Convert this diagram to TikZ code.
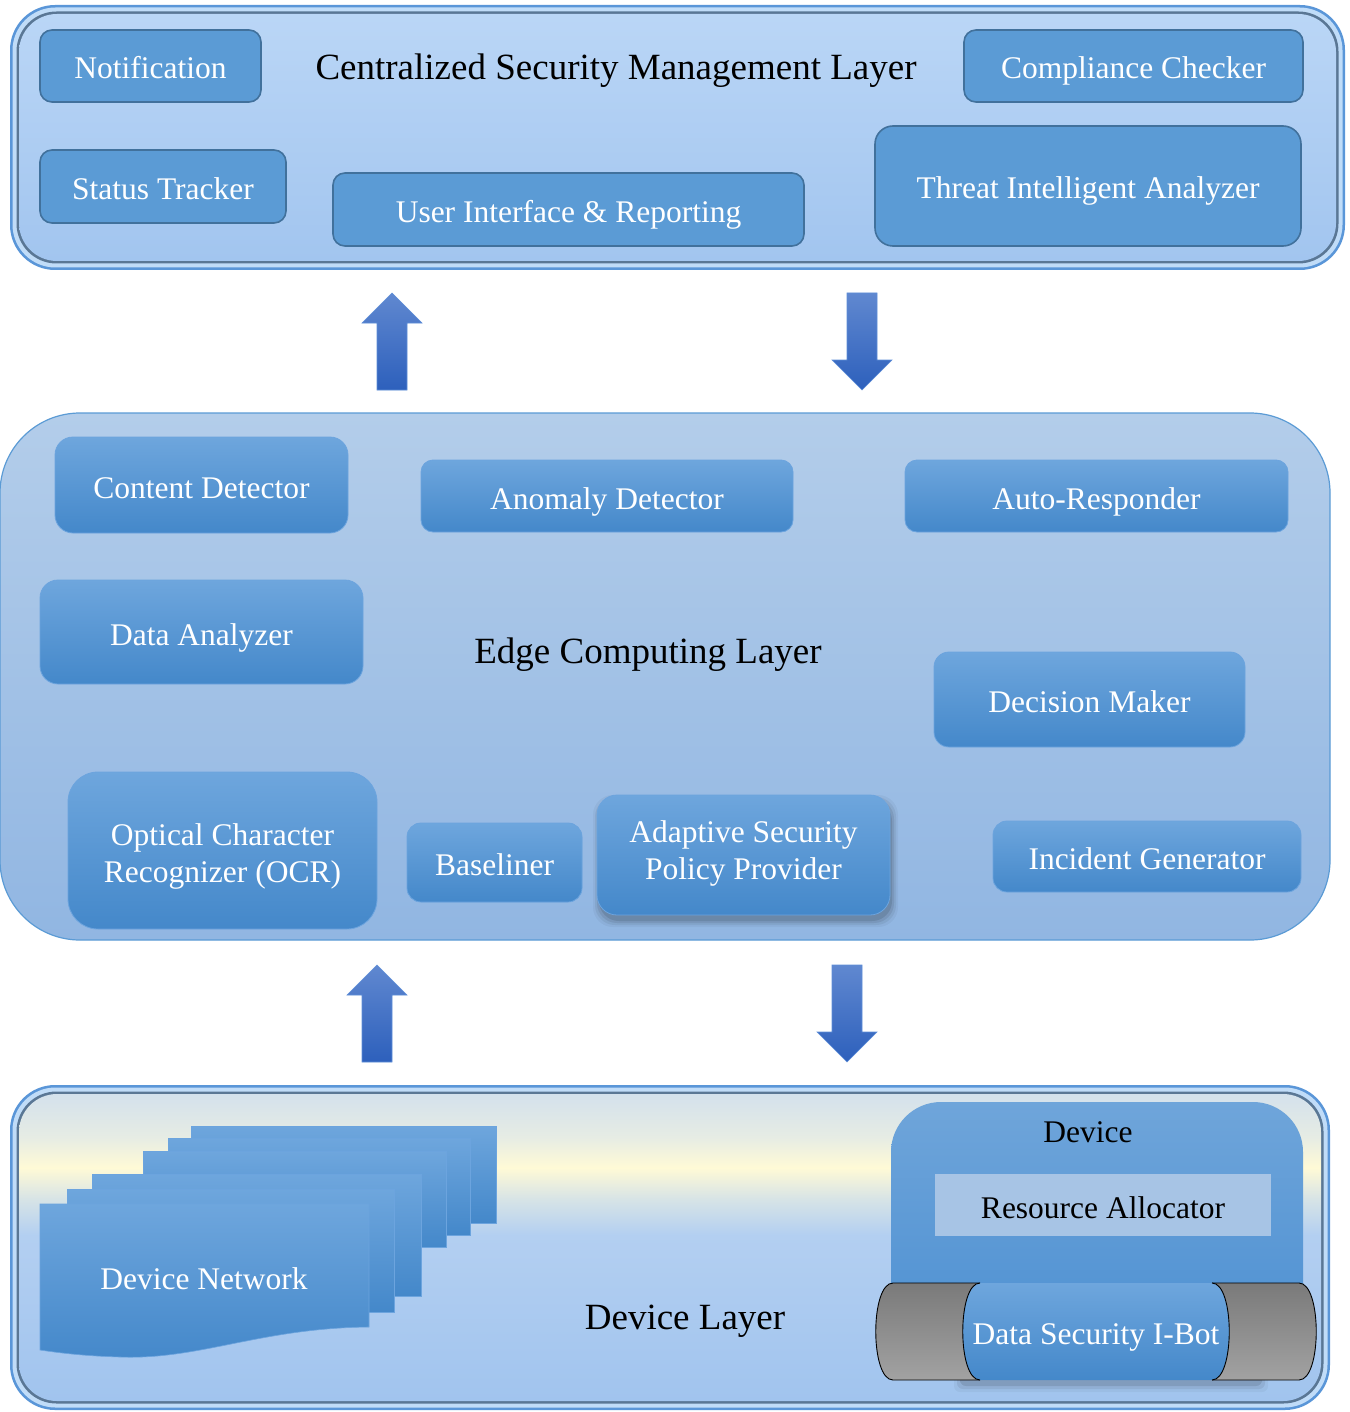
\documentclass[tikz,border=0pt]{standalone}
\usepackage{fontspec}
\setmainfont{Liberation Serif}

\definecolor{topfill}{HTML}{5B9BD5}
\definecolor{topedge}{HTML}{41719C}
\definecolor{midtop}{HTML}{6EA6DD}
\definecolor{midbot}{HTML}{4488CA}
\definecolor{midedge}{HTML}{6CA4DE}
\definecolor{toptop}{HTML}{BAD6F6}
\definecolor{topbot}{HTML}{A2C5EF}
\definecolor{frameout}{HTML}{5A96D8}
\definecolor{framelight}{HTML}{C0DCF8}
\definecolor{framedark}{HTML}{5A7795}
\definecolor{edgetop}{HTML}{B3CDEA}
\definecolor{edgebot}{HTML}{91B6E2}
\definecolor{edgeline}{HTML}{5B9BD5}
\definecolor{arrtop}{HTML}{6088D0}
\definecolor{arrbot}{HTML}{2D60BC}
\definecolor{arredge}{HTML}{5E8ED8}
\definecolor{devtop}{HTML}{6FA5DA}
\definecolor{devbot}{HTML}{4D90D2}
\definecolor{resfill}{HTML}{A7C4E5}
\definecolor{graytop}{HTML}{7A7A7A}
\definecolor{graybot}{HTML}{A2A2A2}
\definecolor{dlB}{HTML}{A1C4EE}
\definecolor{dlC}{HTML}{B3CFF1}
\definecolor{dlD}{HTML}{D8E4E6}
\definecolor{dlY}{HTML}{FFFAD6}
\definecolor{dlE}{HTML}{E6ECE4}
\definecolor{dlT}{HTML}{D4E1EC}

% fill of the device layer: blue below, a pale yellow band near the top
\pgfdeclareverticalshading{devlayerfill}{100bp}{%
  color(0bp)=(dlB); color(25bp)=(dlB); color(52bp)=(dlC);
  color(58bp)=(dlD); color(63bp)=(dlY); color(68bp)=(dlE);
  color(75bp)=(dlT); color(100bp)=(dlT)}

\newcommand\boxfont{\fontsize{31.5}{37}\selectfont}
\newcommand\titlefont{\fontsize{37}{44}\selectfont}

\tikzset{
  flatbox/.style={draw=topedge, line width=1.6pt, fill=topfill,
    rounded corners=12pt, text=white, font=\boxfont, inner sep=0pt,
    text height=26pt, text depth=0pt},
  gradbox/.style={draw=midedge, line width=0.8pt, top color=midtop,
    bottom color=midbot, rounded corners=#1, text=white, font=\boxfont,
    inner sep=0pt, text height=26pt, text depth=0pt},
  gradbox/.default=14pt,
  gradboxtwo/.style={draw=midedge, line width=0.8pt, top color=midtop,
    bottom color=midbot, rounded corners=#1, inner sep=0pt},
  gradboxtwo/.default=20pt,
  boxtext/.style={text=white, font=\boxfont, inner sep=0pt, align=center},
  layertitle/.style={font=\titlefont, text=black, inner sep=0pt},
  blockarrow/.style={top color=arrtop, bottom color=arrbot, draw=arredge,
    line width=0.6pt},
  docpage/.style={top color=midtop, bottom color=midbot, draw=midedge,
    line width=0.6pt},
  edgelayer/.style={draw=edgeline, line width=1.2pt, top color=edgetop,
    bottom color=edgebot, rounded corners=80pt, inner sep=0pt},
  cylline/.style={draw=black, line width=0.9pt},
  softshade/.style={fill=black, opacity=#1},
}

\begin{document}
\begin{tikzpicture}[x=1pt,y=-1pt]
\useasboundingbox (0,0) rectangle (1349,1412);
\fill[white] (0,0) rectangle (1349,1412);

% ---------- Centralized Security Management Layer ----------
\fill[frameout, rounded corners=45pt] (10,5) rectangle (1345,270);
\fill[framelight, rounded corners=43pt] (12.5,7.5) rectangle (1342.5,267.5);
\fill[framedark, rounded corners=40pt] (16.5,11.5) rectangle (1338.5,263.5);
\shade[top color=toptop, bottom color=topbot, rounded corners=38pt]
  (19,14) rectangle (1336,261);

\node[layertitle] (csmtitle) at (616,71) {Centralized Security Management Layer};
\node[flatbox, minimum width=221pt, minimum height=72pt] (notif) at (150.5,66) {Notification};
\node[flatbox, minimum width=246pt, minimum height=73pt] (status) at (163,186.5) {Status Tracker};
\node[flatbox, minimum width=471pt, minimum height=73pt] (uir) at (568.5,209.5) {User Interface \& Reporting};
\node[flatbox, minimum width=339pt, minimum height=72pt] (compl) at (1133.5,66) {Compliance Checker};
\node[flatbox, rounded corners=18pt, minimum width=426pt, minimum height=120pt] (threat) at (1088,186) {Threat Intelligent Analyzer};

% ---------- arrows between top and edge layers ----------
\draw[blockarrow] (392,293) -- (422,323) -- (407,323) -- (407,390)
  -- (377,390) -- (377,323) -- (362,323) -- cycle;
\draw[blockarrow] (847,293) -- (877,293) -- (877,360) -- (892,360)
  -- (862,390) -- (832,360) -- (847,360) -- cycle;

% ---------- Edge Computing Layer ----------
\node[edgelayer, minimum width=1330pt, minimum height=527pt] (edge) at (665,676.5) {};
\node[layertitle] (edgetitle) at (648,655) {Edge Computing Layer};

\node[gradbox=18pt, minimum width=293pt, minimum height=96pt] (content) at (201.5,485) {Content Detector};
\node[gradbox=12pt, minimum width=372pt, minimum height=72pt] (anomaly) at (607,496) {Anomaly Detector};
\node[gradbox=12pt, minimum width=383pt, minimum height=72pt] (auto) at (1096.5,496) {Auto-Responder};
\node[gradbox=18pt, minimum width=323pt, minimum height=104pt] (data) at (201.5,632) {Data Analyzer};
\node[gradbox=15pt, minimum width=311pt, minimum height=95pt] (decision) at (1089.5,699.5) {Decision Maker};
\node[gradboxtwo=30pt, minimum width=309pt, minimum height=157pt] (ocr) at (222.5,850.5) {};
\node[boxtext] (ocrtext) at (222.5,856.5) {Optical Character\\Recognizer (OCR)};
\node[gradbox=14pt, fill=topfill, minimum width=175pt, minimum height=79pt] (baseliner) at (494.5,862.5) {Baseliner};

% soft shadow under the policy provider box
\foreach \g/\o in {0/0.10, 2/0.08, 4/0.06, 6/0.04}
  \fill[softshade=\o, rounded corners=20pt]
    (597-\g+2,795+6-\g) rectangle (890+\g+2,915+6+\g);
\node[gradboxtwo=20pt, minimum width=293pt, minimum height=120pt] (adaptive) at (743.5,855) {};
\node[boxtext] (adaptivetext) at (743.5,853) {Adaptive Security\\Policy Provider};
\node[gradbox=14pt, minimum width=308pt, minimum height=71pt] (incident) at (1147,856.5) {Incident Generator};

% ---------- arrows between edge and device layers ----------
\draw[blockarrow] (377,965) -- (407,995) -- (392,995) -- (392,1062)
  -- (362,1062) -- (362,995) -- (347,995) -- cycle;
\draw[blockarrow] (832,965) -- (862,965) -- (862,1032) -- (877,1032)
  -- (847,1062) -- (817,1032) -- (832,1032) -- cycle;

% ---------- Device Layer ----------
\fill[frameout, rounded corners=45pt] (10,1085) rectangle (1330,1410);
\fill[framelight, rounded corners=43pt] (12.5,1087.5) rectangle (1327.5,1407.5);
\fill[framedark, rounded corners=40pt] (16.5,1091.5) rectangle (1323.5,1403.5);
\shade[shading=devlayerfill, rounded corners=38pt] (19,1094) rectangle (1321,1401);

% stacked pages of the device network
\draw[docpage] (191,1126) rectangle (496,1223);
\draw[docpage] (168,1138) rectangle (470,1235);
\draw[docpage] (143,1151) rectangle (446,1247);
\draw[docpage] (92,1174) rectangle (421,1296);
\draw[docpage] (67,1189) rectangle (394,1312);
\draw[docpage] (40,1204) -- (369,1204) -- (369,1327)
  .. controls (260,1328) and (200,1360) .. (120,1357)
  .. controls (85,1356) and (60,1353) .. (40,1350) -- cycle;
\node[text=white, font=\boxfont, inner sep=0pt] (devnet) at (204,1279) {Device Network};

\node[layertitle] (devtitle) at (685,1321) {Device Layer};

% device with its resource allocator
\shade[top color=devtop, bottom color=devbot, rounded corners=50pt] (891,1102) rectangle (1303,1345);
\node[font=\boxfont, inner sep=0pt] (device) at (1088,1132) {Device};
\node[fill=resfill, font=\boxfont, inner sep=0pt, minimum width=336pt, minimum height=62pt,
  text height=26pt, text depth=0pt] (resalloc) at (1103,1205) {Resource Allocator};

% data security bot drawn as a horizontal cylinder
\foreach \g/\o in {0/0.10, 3/0.07, 6/0.04}
  \fill[softshade=\o, rounded corners=6pt] (960-\g,1376-\g) rectangle (1262+\g,1386+\g);
\shade[top color=graytop, bottom color=graybot] (893,1283) -- (990,1283) -- (990,1380) -- (893,1380)
  .. controls (870,1380) and (870,1283) .. (893,1283) -- cycle;
\shade[top color=graytop, bottom color=graybot] (1200,1283) -- (1299,1283)
  .. controls (1322,1283) and (1322,1380) .. (1299,1380) -- (1200,1380) -- cycle;
\draw[cylline] (980,1283) -- (893,1283) .. controls (870,1283) and (870,1380) .. (893,1380) -- (980,1380);
\draw[cylline] (1212,1283) -- (1299,1283) .. controls (1322,1283) and (1322,1380) .. (1299,1380) -- (1212,1380);
\shade[top color=midtop, bottom color=midbot] (980,1283) -- (1212,1283)
  .. controls (1235,1283) and (1235,1380) .. (1212,1380) -- (980,1380)
  .. controls (957,1380) and (957,1283) .. (980,1283) -- cycle;
\draw[cylline] (980,1283) .. controls (957,1283) and (957,1380) .. (980,1380);
\draw[cylline] (1212,1283) .. controls (1235,1283) and (1235,1380) .. (1212,1380);
\node[text=white, font=\boxfont, inner sep=0pt] (ibot) at (1096,1337) {Data Security I-Bot};
\end{tikzpicture}
\end{document}
